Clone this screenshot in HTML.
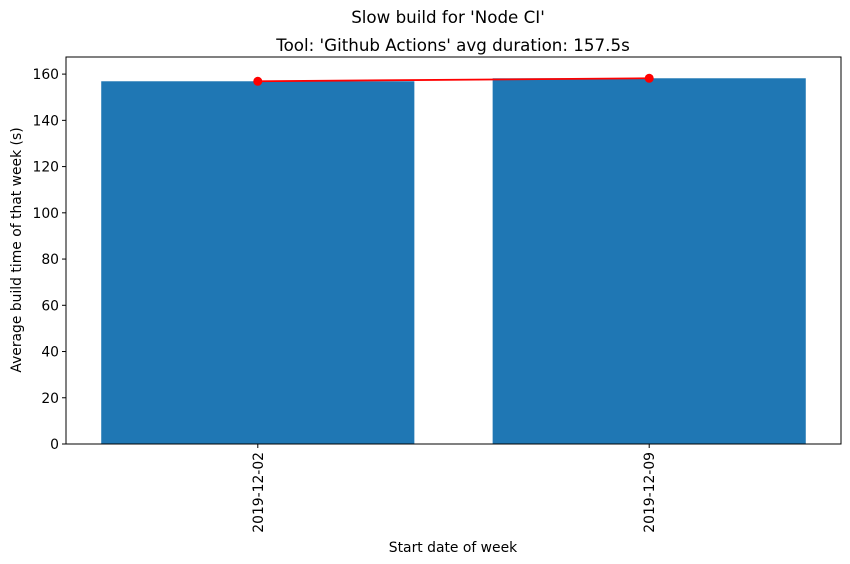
<!DOCTYPE html>
<html><head><meta charset="utf-8"><style>
body{margin:0;background:#fff;}
svg{display:block;font-family:"DejaVu Sans","Liberation Sans",sans-serif;}
</style></head><body>
<svg id="chart" width="850" height="564" viewBox="0 0 850 564">
<text x="448" y="23" font-size="16.7" text-anchor="middle">Slow build for 'Node CI'</text>
<text x="453" y="51" font-size="16.7" text-anchor="middle">Tool: 'Github Actions' avg duration: 157.5s</text>
<g id="plot"></g>
<text x="453" y="552" font-size="13.9" text-anchor="middle">Start date of week</text>
<text transform="translate(21,250) rotate(-90)" font-size="13.9" text-anchor="middle">Average build time of that week (s)</text>
</svg>
<script>
const categories = ["2019-12-02", "2019-12-09"];
const barValues = [156.9, 158.2];
const lineValues = [156.9, 158.2];
const yTicks = [0, 20, 40, 60, 80, 100, 120, 140, 160];

const L = 66, R = 841, T = 57, B = 444;
const yMax = 167.4;
const xMin = -0.49, xMax = 1.49;
const xs = v => L + (v - xMin) / (xMax - xMin) * (R - L);
const ys = v => B - v / yMax * (B - T);
const NS = "http://www.w3.org/2000/svg";
const g = document.getElementById("plot");
function mk(tag, attrs, parent) {
  const e = document.createElementNS(NS, tag);
  for (const k in attrs) e.setAttribute(k, attrs[k]);
  (parent || g).appendChild(e);
  return e;
}
const bw = 0.8 * (xs(1) - xs(0));
categories.forEach((c, i) => {
  const r = mk("rect", {x: xs(i) - bw / 2, y: ys(barValues[i]), width: bw, height: B - ys(barValues[i]), fill: "#1f77b4"});
  
  
  const t = mk("line", {x1: xs(i), x2: xs(i), y1: B, y2: B + 4, stroke: "#000", "stroke-width": 1});
  
  
  const lb = mk("text", {transform: `translate(${xs(i) + 5},${B + 8}) rotate(-90)`, "font-size": 13.9, "text-anchor": "end"});
  lb.textContent = c;
  
  
});
yTicks.forEach(v => {
  const t = mk("line", {x1: L - 4, x2: L, y1: ys(v), y2: ys(v), stroke: "#000", "stroke-width": 1});
  
  
  const lb = mk("text", {x: L - 7, y: ys(v) + 5, "font-size": 13.9, "text-anchor": "end"});
  lb.textContent = v;
  
  
});
const pts = lineValues.map((v, i) => xs(i) + "," + ys(v)).join(" ");
const pl = mk("polyline", {points: pts, fill: "none", stroke: "#ff0000", "stroke-width": 1.8});


lineValues.forEach((v, i) => {
  const c = mk("circle", {cx: xs(i), cy: ys(v), r: 4.5, fill: "#ff0000"});
  
  
});
const fr = mk("rect", {x: L, y: T, width: R - L, height: B - T, fill: "none", stroke: "#000", "stroke-width": 1});


</script>
</body></html>
